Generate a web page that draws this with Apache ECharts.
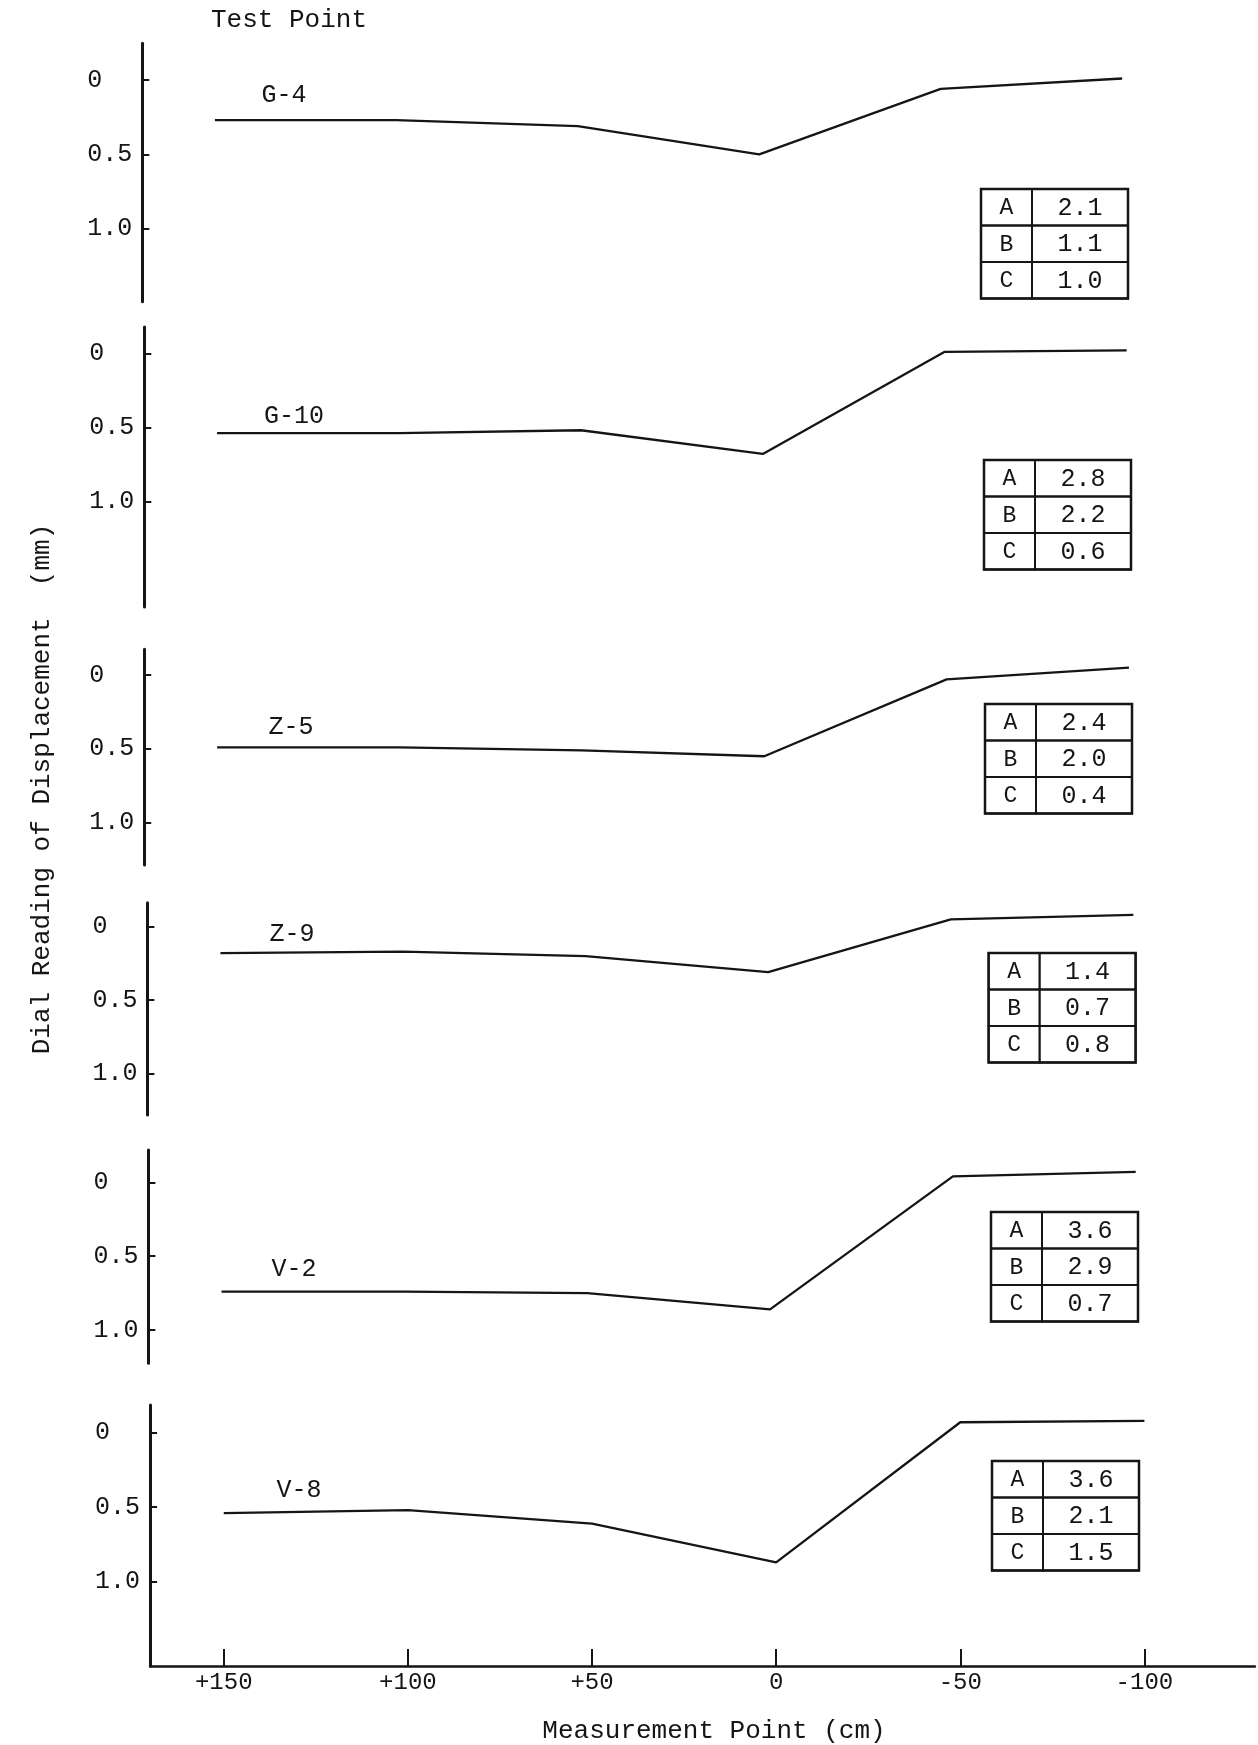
<!DOCTYPE html>
<html><head><meta charset="utf-8">
<script src="https://cdn.jsdelivr.net/npm/echarts@6/dist/echarts.min.js"></script>
<style>html,body{margin:0;padding:0;background:#fff}#c{width:1258px;height:1745px}</style>
</head><body><div id="c"></div>
<script>
// ---------- data ----------
const testPoints = ['G-4', 'G-10', 'Z-5', 'Z-9', 'V-2', 'V-8'];
const measurementPoints = [150, 100, 50, 0, -50, -100];
const xTickLabels = ['+150', '+100', '+50', '0', '-50', '-100'];
const yTickValues = [0, 0.5, 1.0];
const yTickLabels = ['0', '0.5', '1.0'];
const readingG4  = [0.27, 0.27, 0.31, 0.50, 0.06, -0.01];
const readingG10 = [0.54, 0.54, 0.52, 0.68, -0.01, -0.02];
const readingZ5  = [0.49, 0.49, 0.51, 0.55, 0.03, -0.05];
const readingZ9  = [0.18, 0.17, 0.20, 0.31, -0.05, -0.08];
const readingV2  = [0.74, 0.74, 0.75, 0.86, -0.04, -0.07];
const readingV8  = [0.54, 0.52, 0.61, 0.87, -0.07, -0.08];
const tableKeys = ['A', 'B', 'C'];
const tableG4  = [2.1, 1.1, 1.0];
const tableG10 = [2.8, 2.2, 0.6];
const tableZ5  = [2.4, 2.0, 0.4];
const tableZ9  = [1.4, 0.7, 0.8];
const tableV2  = [3.6, 2.9, 0.7];
const tableV8  = [3.6, 2.1, 1.5];
const titleTop = 'Test Point';
const titleX = 'Measurement Point (cm)';
const titleY = 'Dial Reading of Displacement  (mm)';

const readings = [readingG4, readingG10, readingZ5, readingZ9, readingV2, readingV8];
const tables = [tableG4, tableG10, tableZ5, tableZ9, tableV2, tableV8];

// ---------- layout (pixels) ----------
const X_LEFT_VAL = 170, X_RIGHT_VAL = -130;
const panelLayout = [
  {left: 142.3, width: 1088.7, top: 43.3,  bottom: 301.7, zeroY: 80.0,   unit: 148.7, tx: 981,   ty: 189,  lx: 284, ly: 95},
  {left: 144.3, width: 1091.5, top: 327.0, bottom: 607.0, zeroY: 353.3,  unit: 148.0, tx: 984,   ty: 460,  lx: 294, ly: 416},
  {left: 144.2, width: 1094.2, top: 649.3, bottom: 865.0, zeroY: 675.0,  unit: 147.7, tx: 985,   ty: 704,  lx: 291, ly: 727},
  {left: 147.4, width: 1095.5, top: 902.7, bottom: 1115.0, zeroY: 926.7, unit: 146.7, tx: 988.6, ty: 953,  lx: 292, ly: 934},
  {left: 148.4, width: 1097.0, top: 1150.0, bottom: 1363.3, zeroY: 1182.3, unit: 147.7, tx: 991, ty: 1212, lx: 294, ly: 1269},
  {left: 150.1, width: 1104.8, top: 1405.0, bottom: 1666.0, zeroY: 1432.7, unit: 149.0, tx: 992, ty: 1461, lx: 299, ly: 1490}
];
const TBL_W1 = 51, TBL_W2 = 96, TBL_ROW = 36.5;
const FONT = 'Liberation Mono';
const INK = '#151515';

const chart = echarts.init(document.getElementById('c'), null, {renderer: 'canvas'});

const grids = [], xAxes = [], yAxes = [], series = [], graphics = [];
panelLayout.forEach((p, i) => {
  const last = i === panelLayout.length - 1;
  grids.push({left: p.left, width: p.width, top: p.top, height: p.bottom - p.top, containLabel: false});
  xAxes.push({
    type: 'value', gridIndex: i, min: X_RIGHT_VAL, max: X_LEFT_VAL, inverse: true,
    show: last,
    axisLine: {show: last, onZero: false, lineStyle: {color: INK, width: 2.5}},
    axisTick: {show: last, inside: true, length: 17, customValues: measurementPoints, lineStyle: {color: INK, width: 2}},
    axisLabel: {
      show: last, customValues: measurementPoints, margin: 5,
      formatter: v => xTickLabels[measurementPoints.indexOf(v)],
      fontFamily: FONT, fontSize: 24, color: INK
    },
    splitLine: {show: false}
  });
  yAxes.push({
    type: 'value', gridIndex: i, inverse: true,
    min: -(p.zeroY - p.top) / p.unit, max: (p.bottom - p.zeroY) / p.unit,
    axisLine: {show: true, onZero: false, lineStyle: {color: INK, width: 3}},
    axisTick: {show: true, inside: true, length: 7, customValues: yTickValues, lineStyle: {color: INK, width: 2}},
    axisLabel: {
      customValues: yTickValues, align: 'left', margin: 55,
      formatter: v => yTickLabels[yTickValues.indexOf(v)],
      fontFamily: FONT, fontSize: 25, color: INK
    },
    splitLine: {show: false}
  });
  series.push({
    type: 'line', xAxisIndex: i, yAxisIndex: i, name: testPoints[i],
    data: measurementPoints.map((x, k) => [x, readings[i][k]]),
    symbol: 'none', smooth: false, animation: false,
    lineStyle: {color: INK, width: 2.3}
  });
  // test point label
  graphics.push({
    type: 'text', x: p.lx, y: p.ly,
    style: {text: testPoints[i], font: `25px "${FONT}"`, fill: INK, textAlign: 'center', textVerticalAlign: 'middle'}
  });
  // table
  const tbl = tables[i];
  tableKeys.forEach((k, r) => {
    const y = p.ty + r * TBL_ROW;
    graphics.push({type: 'rect', shape: {x: p.tx, y: y, width: TBL_W1, height: TBL_ROW},
      style: {fill: 'none', stroke: INK, lineWidth: 1.8}});
    graphics.push({type: 'rect', shape: {x: p.tx + TBL_W1, y: y, width: TBL_W2, height: TBL_ROW},
      style: {fill: 'none', stroke: INK, lineWidth: 1.8}});
    graphics.push({type: 'text', x: p.tx + TBL_W1 / 2, y: y + TBL_ROW / 2 + 1,
      style: {text: k, font: `23px "${FONT}"`, fill: INK, textAlign: 'center', textVerticalAlign: 'middle'}});
    graphics.push({type: 'text', x: p.tx + TBL_W1 + TBL_W2 / 2, y: y + TBL_ROW / 2 + 1,
      style: {text: tbl[r].toFixed(1), font: `25px "${FONT}"`, fill: INK, textAlign: 'center', textVerticalAlign: 'middle'}});
  });
  graphics.push({type: 'rect', shape: {x: p.tx, y: p.ty, width: TBL_W1 + TBL_W2, height: TBL_ROW * 3},
    style: {fill: 'none', stroke: INK, lineWidth: 2.5}});
});

graphics.push({type: 'text', x: 289, y: 20,
  style: {text: titleTop, font: `26px "${FONT}"`, fill: INK, textAlign: 'center', textVerticalAlign: 'middle'}});
graphics.push({type: 'text', x: 714, y: 1731,
  style: {text: titleX, font: `26px "${FONT}"`, fill: INK, textAlign: 'center', textVerticalAlign: 'middle'}});
graphics.push({type: 'text', x: 42, y: 789, rotation: Math.PI / 2,
  style: {text: titleY, font: `26px "${FONT}"`, fill: INK, textAlign: 'center', textVerticalAlign: 'middle'}});

chart.setOption({
  animation: false,
  backgroundColor: '#ffffff',
  grid: grids, xAxis: xAxes, yAxis: yAxes, series: series,
  graphic: {elements: graphics}
});
</script>
</body></html>
